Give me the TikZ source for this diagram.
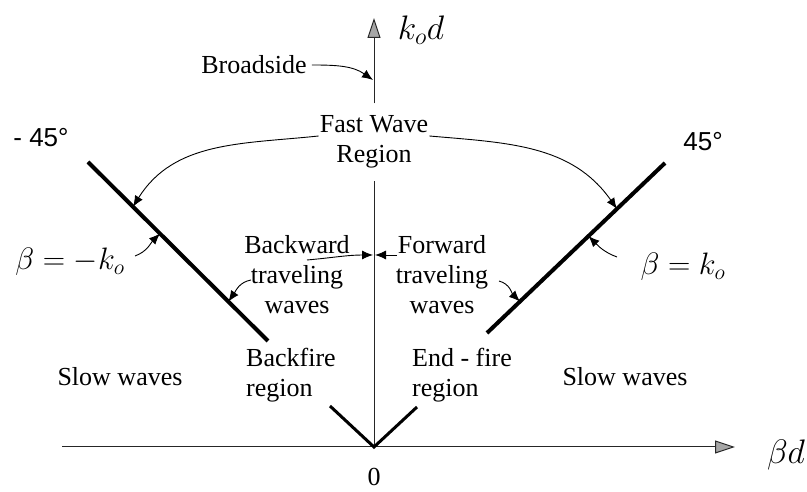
\RequirePackage{fix-cm}
\documentclass[tikz,border=0pt]{standalone}
\usepackage{fontspec}
\setmainfont{Liberation Serif}
\newfontfamily\arialf{Liberation Sans}
\usetikzlibrary{arrows.meta,calc}
\begin{document}
\begin{tikzpicture}[x=1pt,y=1pt,
  lbl/.style={font=\fontsize{26}{30}\selectfont, inner sep=1pt, align=center},
  ang/.style={font=\arialf\fontsize{26}{30}\selectfont, inner sep=1pt},
  mlbl/.style={font=\fontsize{31}{36}\selectfont, inner sep=1pt},
  axisline/.style={line width=1pt, draw=black!85},
  axtip/.style={-{Triangle[length=20pt,width=13pt,fill=black!35]}},
  thickseg/.style={line width=4pt},
  vseg/.style={line width=3pt},
  ptr/.style={line width=0.9pt, -{Latex[length=11pt,width=9pt]}}
]
\useasboundingbox (0,0) rectangle (807,492);
% axes points
\coordinate (O) at (374,45);
\coordinate (Xs) at (62,45);
\coordinate (X) at (735,45);
\coordinate (Y) at (374,474);
% thick line ends
\coordinate (L1) at (268,151);
\coordinate (L2) at (88,330);
\coordinate (R1) at (487,159);
\coordinate (R2) at (665,329);
\coordinate (VL) at (330,86);
\coordinate (VR) at (417,85);

% labels
\node[lbl] (bs) at (254,427) {Broadside};
\node[lbl, inner ysep=12pt] (fw) at (374,350) {Fast Wave\\Region};
\node[ang] (m45) at (41,354) {- 45°};
\node[ang] (p45) at (703,350) {45°};
\node[mlbl] (bmk) at (70,230) {$\beta=-k_o$};
\node[mlbl] (bpk) at (683,225) {$\beta=k_o$};
\node[lbl] (bw) at (297,217) {Backward\\traveling\\waves};
\node[lbl] (fwd) at (442,217) {Forward\\traveling\\waves};
\node[lbl, anchor=west, align=left] (bf) at (245,117) {Backfire\\region};
\node[lbl, anchor=west, align=left] (ef) at (411,117) {End - fire\\region};
\node[lbl] (sl) at (120,115) {Slow waves};
\node[lbl] (sr) at (625,115) {Slow waves};
\node[lbl] (zero) at (374,15) {0};
\node[font=\fontsize{34}{40}\selectfont, inner sep=1pt] (bd) at (786,37) {$\beta d$};
\node[font=\fontsize{34}{40}\selectfont, inner sep=1pt] (kd) at (421,462) {$k_o d$};

% axes
\draw[axisline, axtip] (Xs) -- (X);
\draw[axisline] (O) -- (fw.south);
\draw[axisline, axtip] (fw.north) -- (Y);

% V lines
\draw[vseg] (VL) -- (O) -- (VR);
\draw[thickseg] (L1) -- (L2);
\draw[thickseg] (R1) -- (R2);

% arrow end coordinates
\coordinate (bsE) at (373,412);
\coordinate (fwLE) at ($(L1)!0.75!(L2)$);
\coordinate (fwRE) at ($(R1)!0.73!(R2)$);
\coordinate (bmkE) at ($(L1)!0.60!(L2)$);
\coordinate (bpkE) at ($(R1)!0.57!(R2)$);
\coordinate (twLE) at ($(L1)!0.22!(L2)$);
\coordinate (twRE) at ($(R1)!0.185!(R2)$);
\coordinate (twLS) at (251,212);
\coordinate (twRS) at (499,211);
\coordinate (bwS) at (307,232);
\coordinate (bwE) at (373,237);
\coordinate (fdS) at (397,237);
\coordinate (fdE) at (375,237);
\coordinate (bmkS) at (135,236);
\coordinate (bpkS) at (617,235);

% pointers
\draw[ptr] ([xshift=4pt]bs.east) to[out=0,in=145] (bsE);
\draw[ptr] ([yshift=6pt]fw.west) to[out=186,in=58] (fwLE);
\draw[ptr] ([yshift=6pt]fw.east) to[out=-5,in=125] (fwRE);
\draw[ptr] (bwS) to[out=5,in=180] (bwE);
\draw[ptr] (fdS) -- (fdE);
\draw[ptr] (twLS) to[out=190,in=55] (twLE);
\draw[ptr] (twRS) to[out=-15,in=135] (twRE);
\draw[ptr] (bmkS) to[out=20,in=-135] (bmkE);
\draw[ptr] (bpkS) to[out=160,in=-45] (bpkE);
\end{tikzpicture}
\end{document}
